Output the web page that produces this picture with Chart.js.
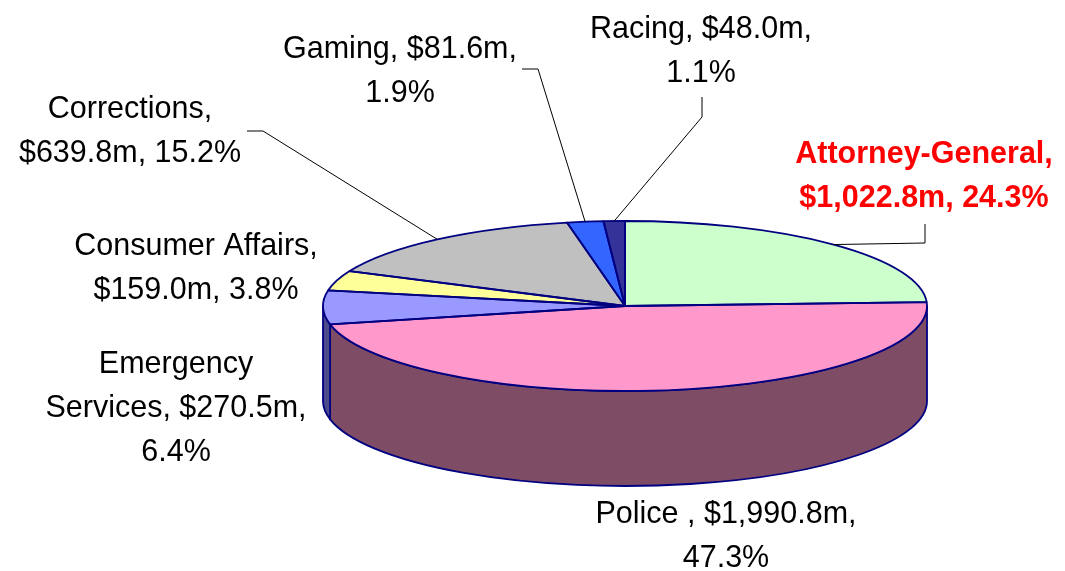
<!DOCTYPE html>
<html>
<head>
<meta charset="utf-8">
<script src="https://cdn.jsdelivr.net/npm/chart.js@4"></script>
<style>
  html, body { margin: 0; padding: 0; background: #fff; }
  #wrap { width: 1065px; height: 571px; }
</style>
</head>
<body>
<div id="wrap"><canvas id="pie"></canvas></div>
<script>
// data
const categories = ['Attorney-General', 'Police ', 'Emergency Services', 'Consumer Affairs', 'Corrections', 'Gaming', 'Racing'];
const spending = [1022.8, 1990.8, 270.5, 159.0, 639.8, 81.6, 48.0];   // $m
const shares = [24.3, 47.3, 6.4, 3.8, 15.2, 1.9, 1.1];                 // %

// colours
const topColors = ['#CCFFCC', '#FF99CC', '#9999FF', '#FFFF99', '#C0C0C0', '#3366FF', '#333399'];
const sideColors = ['#668066', '#7F4C66', '#4C4C8C', '#80804C', '#606060', '#1A3380', '#1A1A4C'];
const edgeColor = '#000080';

// label layout: centre x, first baseline y, words per line
const labelPos = [[924, 163], [726, 523], [176, 373], [196, 255], [130, 118], [400, 58], [701, 38]];
const labelLines = [[1, 2], [3, 1], [1, 2, 1], [2, 2], [1, 2], [2, 1], [2, 1]];
// leader line elbows (then on to the slice rim)
const leaders = [[[925, 224], [925, 243]], null, null, null, [[247, 131], [263, 131]], [[522, 69], [538, 69]], [[702, 97], [702, 117]]];

const tilt = 85 / 302;   // ellipse squash of the top face
const depth = 95;        // height of the pie wall
const lineH = 44;

function money(v) {
    return '$' + v.toLocaleString('en-US', { minimumFractionDigits: 1, maximumFractionDigits: 1 }) + 'm,';
}

function labelText(i) {
    let words = (categories[i] + ',').split(' ');
    words.push(money(spending[i]), shares[i].toFixed(1) + '%');
    let out = [], k = 0;
    labelLines[i].forEach(n => {
        out.push(words.slice(k, k + n).join(' '));
        k += n;
    });
    return out;
}

const pie3d = {
    id: 'pie3d',
    beforeDatasetsDraw(chart) {
        const ctx = chart.ctx;
        const arcs = chart.getDatasetMeta(0).data;
        const cx = arcs[0].x, cy = arcs[0].y, r = arcs[0].outerRadius, ry = r * tilt;
        // wall of the front half
        ctx.save();
        ctx.lineWidth = 1.8;
        ctx.strokeStyle = edgeColor;
        ctx.lineJoin = 'round';
        arcs.forEach((arc, i) => {
            const a0 = Math.max(arc.startAngle, 0);
            const a1 = Math.min(arc.endAngle, Math.PI);
            if (a1 <= a0) return;
            ctx.beginPath();
            ctx.ellipse(cx, cy, r, ry, 0, a0, a1);
            ctx.ellipse(cx, cy + depth, r, ry, 0, a1, a0, true);
            ctx.closePath();
            ctx.fillStyle = sideColors[i];
            ctx.fill();
            ctx.stroke();
        });
        ctx.restore();
        // squash the top face
        ctx.save();
        ctx.translate(cx, cy);
        ctx.scale(1, tilt);
        ctx.translate(-cx, -cy);
    },
    afterDatasetsDraw(chart) {
        const ctx = chart.ctx;
        ctx.restore();
        const arcs = chart.getDatasetMeta(0).data;
        const cx = arcs[0].x, cy = arcs[0].y, r = arcs[0].outerRadius, ry = r * tilt;
        ctx.save();
        ctx.lineWidth = 1.8;
        ctx.strokeStyle = edgeColor;
        ctx.lineJoin = 'round';
        arcs.forEach(arc => {
            ctx.beginPath();
            ctx.moveTo(cx, cy);
            ctx.ellipse(cx, cy, r, ry, 0, arc.startAngle, arc.endAngle);
            ctx.closePath();
            ctx.stroke();
        });
        ctx.restore();
    },
    afterDraw(chart) {
        const ctx = chart.ctx;
        const arcs = chart.getDatasetMeta(0).data;
        const cx = arcs[0].x, cy = arcs[0].y, r = arcs[0].outerRadius, ry = r * tilt;
        ctx.save();
        // leader lines
        ctx.strokeStyle = '#000';
        ctx.lineWidth = 1;
        arcs.forEach((arc, i) => {
            if (!leaders[i]) return;
            const mid = (arc.startAngle + arc.endAngle) / 2;
            ctx.beginPath();
            ctx.moveTo(leaders[i][0][0], leaders[i][0][1]);
            ctx.lineTo(leaders[i][1][0], leaders[i][1][1]);
            ctx.lineTo(cx + r * Math.cos(mid), cy + ry * Math.sin(mid));
            ctx.stroke();
        });
        // labels
        ctx.textAlign = 'center';
        ctx.textBaseline = 'alphabetic';
        categories.forEach((c, i) => {
            const bold = i === 0;
            ctx.font = (bold ? 'bold ' : '') + '30.5px "Liberation Sans", Arial, sans-serif';
            ctx.fillStyle = bold ? '#FF0000' : '#000';
            labelText(i).forEach((t, j) => {
                ctx.fillText(t, labelPos[i][0], labelPos[i][1] + j * lineH);
            });
        });
        ctx.restore();
    }
};

window.onload = function () {
    let el = document.getElementById('pie');
    new Chart(el, {
        type: 'pie',
        data: {
            labels: categories,
            datasets: [{
                data: spending,
                backgroundColor: topColors,
                borderWidth: 0,
                hoverOffset: 0,
                clip: false
            }]
        },
        options: {
            responsive: true,
            maintainAspectRatio: false,
            animation: false,
            events: [],
            radius: 302,
            layout: { padding: { left: 185, right: 0, top: 41, bottom: 0 } },
            plugins: { legend: { display: false }, tooltip: { enabled: false } }
        },
        plugins: [pie3d]
    });
}
</script>
</body>
</html>
